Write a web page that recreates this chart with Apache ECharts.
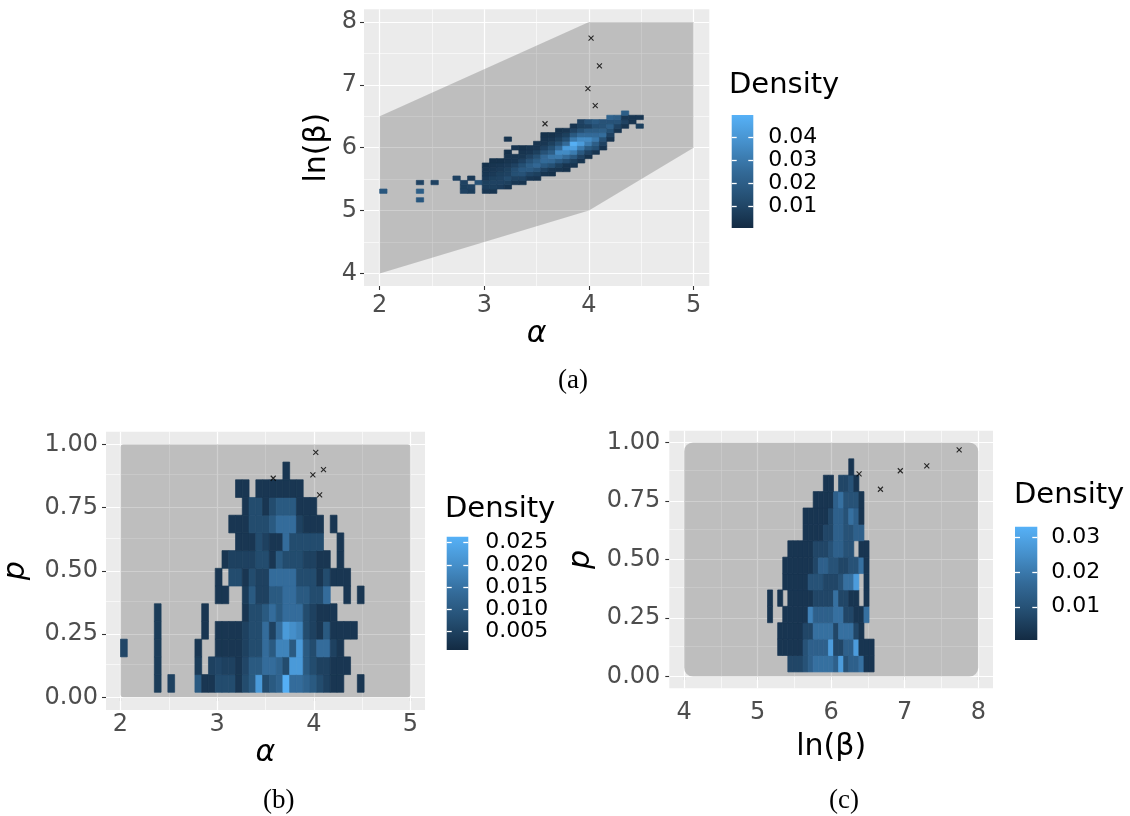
<!DOCTYPE html>
<html>
<head>
<meta charset="utf-8">
<title>Posterior density maps</title>
<script src="https://cdn.jsdelivr.net/npm/echarts@6/dist/echarts.min.js"></script>
<style>
  html, body { margin: 0; padding: 0; background: #fff; }
  #chart { width: 1130px; height: 816px; }
</style>
</head>
<body>
<div id="chart"></div>
<script>
// ---- values ----
// the five crosses (same points in every panel)
const crossAlpha = [4.02, 4.10, 3.99, 3.58, 4.06];
const crossLnBeta = [7.74, 7.30, 6.94, 6.38, 6.67];
const crossP = [0.968, 0.900, 0.879, 0.866, 0.800];

// grey prior region of (a), and prior box of (b) / (c)
const regionAlpha = [2, 2, 4, 5, 5, 4];
const regionLnBeta = [4, 6.5, 8, 8, 6, 5];
const boxAlpha = [2, 5];
const boxLnBeta = [4, 8];
const boxP = [0, 1];

// bins: [lower edge of first bin, bin width]
const alphaBin = [2.0, 0.07];
const lnBetaBin = [5.135, 0.069];
const pBin = [0.02, 0.07];

// densities in units of 0.001
// (a) and (b): [x bin, first y bin, values going up]
const densA = [
  [0, 2, [17]],
  [5, 0, [17, null, 20, null, 9]],
  [7, 4, [9]],
  [10, 5, [9]],
  [11, 2, [9, 8, 9]],
  [12, 2, [7, 9, null, 6]],
  [13, 4, [15]],
  [14, 2, [5, 7, 8, 6, 5, 4, 3]],
  [15, 2, [4, 8, 9, 8, 6, 5, 4, 3]],
  [16, 3, [7, 9, 9, 8, 6, 5, 3]],
  [17, 3, [4, 8, 12, 9, 8, 6, 4, 4, 3, null, null, 4]],
  [18, 4, [5, 9, 14, 13, 9, 5, 4, null, 4]],
  [19, 4, [4, 9, 15, 18, 14, 9, 5, 4, 3]],
  [20, 5, [5, 10, 18, 20, 15, 9, 5, 4]],
  [21, 5, [4, 8, 15, 24, 20, 14, 8, 5, 4]],
  [22, 6, [4, 9, 18, 25, 24, 15, 9, 5, 4, 3]],
  [23, 6, [3, 5, 14, 24, 29, 20, 14, 8, 5, 3]],
  [24, 7, [4, 8, 18, 30, 36, 25, 14, 8, 5, 3]],
  [25, 7, [3, 4, 13, 25, 36, 42, 25, 14, 8, 4]],
  [26, 8, [4, 8, 18, 31, 43, 49, 30, 18, 9, 4]],
  [27, 9, [4, 9, 18, 30, 42, 36, 25, 14, 8, 9]],
  [28, 10, [3, 9, 19, 31, 36, 25, 19, 9, 15]],
  [29, 11, [4, 14, 20, 30, 25, 19, 14, 18]],
  [30, 12, [4, 9, 15, 26, 20, 15, 15]],
  [31, 14, [4, 9, 14, 20, 15, 22]],
  [32, 16, [4, 9, 15, 20]],
  [33, 17, [4, 9, 5, 20]],
  [34, 18, [4, 5]],
  [35, 17, [8, null, 5]]
];
const densB = [
  [0, 2, [6]],
  [5, 0, [4, 4, 4, 4, 4]],
  [7, 0, [5]],
  [11, 0, [10, 4, 3]],
  [12, 0, [3, null, null, 3, 3]],
  [13, 0, [3, 5]],
  [14, 0, [7, 6, 3, 3, null, 3, 3]],
  [15, 0, [7, 5, 3, 3, null, 3, null, 3]],
  [16, 0, [7, 5, 3, 3, null, null, 7, 5, null, 3]],
  [17, 0, [3, 3, 3, 3, null, null, 7, 5, 3, 3, null, 3]],
  [18, 0, [7, 6, 5, 5, 3, 4, 3, 5, 3, 3, 3, 3]],
  [19, 0, [10, 10, 7, 7, 7, 10, 7, 5, 3, 7, 7]],
  [20, 0, [22, 10, 7, 7, 7, 5, 5, 7, 7, 7, 7, 3]],
  [21, 0, [7, 14, 14, 14, 10, 5, 5, 7, 5, 7, 3, 3]],
  [22, 0, [10, 14, 10, 5, 14, 10, 14, 3, 3, 10, 7, 3]],
  [23, 0, [12, 12, 18, 14, 10, 10, 14, 10, 3, 14, 10, 3]],
  [24, 0, [26, 7, 18, 22, 14, 14, 14, 7, 14, 14, 10, 3, 3]],
  [25, 0, [14, 22, 10, 20, 14, 14, 14, 7, 7, 14, 10, 3]],
  [26, 0, [14, 22, 22, 18, 14, 10, 7, 7, 7, 5, 3, 3]],
  [27, 0, [12, 10, 10, 7, 7, 10, 7, 5, 7, 3, 3]],
  [28, 0, [10, 7, 7, 5, 5, 7, 7, 5, 7, 3, 3]],
  [29, 0, [7, 5, 14, 3, 3, 7, 3, 3, 7, 3]],
  [30, 0, [5, 5, 14, 10, 3, 14, 7, 3]],
  [31, 0, [3, 3, 5, 3, 3, null, 3, null, null, 3]],
  [32, 0, [3, 3, 3, 3, null, null, 3, 3, 3]],
  [33, 1, [3, null, 3, null, 3, 3]],
  [34, 3, [3]],
  [35, 0, [3, null, null, null, null, 3]]
];
// (c): [p bin, first ln(beta) bin, values going right]
const densC = [
  [0, 4, [7, 7, 7, 10, 14, 18, 18, 18, 18, 14, 28, 10, 14, 14, 18, 3, 3]],
  [1, 2, [3, 3, 3, 3, 3, 10, 14, 14, 14, 14, 28, 7, 7, 14, 14, 28, 3, 3, 3]],
  [2, 2, [3, 3, 3, 3, 3, 7, 7, 18, 18, 18, 18, 7, 18, 18, 18, 7, 3]],
  [3, 0, [3, null, null, 3, 3, 3, 3, 3, 22, 14, 14, 14, 14, 18, 18, 7, 7, 3, 3, 18]],
  [4, 0, [3, null, 3, null, 3, 3, 3, 3, 3, 7, 7, 7, 7, 18, 7, 7, 3, 3, null, 3]],
  [5, 3, [3, 3, 3, 3, 3, 10, 10, 10, 7, 7, 7, 10, 18, 18, 28, null, 3]],
  [6, 3, [3, 3, 3, 3, 3, 3, 7, 14, 14, 10, 10, 7, 7, 10, 10, 18, 3]],
  [7, 4, [3, 3, 3, 3, 3, 7, 7, 7, 10, 14, 14, 10, 10, null, 3, 3]],
  [8, 7, [3, 3, 3, 3, 7, 7, 14, 14, 10, 10, 14, 14]],
  [9, 7, [3, 3, 3, 3, 3, 7, 14, 14, 10, 18, 14, 3]],
  [10, 9, [3, 3, 3, 3, 14, 18, 10, 10, 10, 3]],
  [11, 11, [3, 3, null, 7, 7, 10, 3]],
  [12, 16, [3]]
];

// colour bar limits and ticks
const limitsA = [0.0005, 0.0497];
const limitsB = [0.0009, 0.0263];
const limitsC = [0.0005, 0.0329];
const legendTicksA = [0.01, 0.02, 0.03, 0.04];
const legendTicksB = [0.005, 0.010, 0.015, 0.020, 0.025];
const legendTicksC = [0.01, 0.02, 0.03];

// axis ticks
const alphaTicks = [2, 3, 4, 5];
const alphaMinor = [2.5, 3.5, 4.5];
const lnBetaTicks = [4, 5, 6, 7, 8];
const lnBetaMinor = [4.5, 5.5, 6.5, 7.5];
const pTicks = [0, 0.25, 0.5, 0.75, 1];
const pMinor = [0.125, 0.375, 0.625, 0.875];
const alphaRange = [1.85, 5.15];
const lnBetaRange = [3.8, 8.2];
const pRange = [-0.05, 1.05];

// ---- chart ----
const ramp = ['#132B43', '#244D70', '#336A98', '#458FCA', '#56B1F7'];
const FONT = 'DejaVu Sans';
const chart = echarts.init(document.getElementById('chart'));

function expand(runs, xb, yb, alongX) {
  const cells = [];
  runs.forEach(function (run) {
    run[2].forEach(function (v, n) {
      if (v == null) return;
      const xi = alongX ? run[1] + n : run[0];
      const yi = alongX ? run[0] : run[1] + n;
      cells.push([xb[0] + xi * xb[1], yb[0] + yi * yb[1], v / 1000]);
    });
  });
  return cells;
}

function tileSeries(gi, cells, w, h) {
  return {
    type: 'custom', xAxisIndex: gi, yAxisIndex: gi, z: 3, silent: true,
    data: cells,
    renderItem: function (params, api) {
      const a = api.coord([api.value(0), api.value(1) + h]);
      const b = api.coord([api.value(0) + w, api.value(1)]);
      const c = api.visual('color');
      return {
        type: 'rect',
        shape: { x: a[0], y: a[1], width: b[0] - a[0], height: b[1] - a[1] },
        style: { fill: c, stroke: c, lineWidth: 0.7 }
      };
    }
  };
}

function gridLineSeries(gi, xMajor, xMinor, yMajor, yMinor) {
  const items = [];
  xMajor.forEach(v => items.push({ xAxis: v, lineStyle: { width: 1.2 } }));
  xMinor.forEach(v => items.push({ xAxis: v, lineStyle: { width: 0.6 } }));
  yMajor.forEach(v => items.push({ yAxis: v, lineStyle: { width: 1.2 } }));
  yMinor.forEach(v => items.push({ yAxis: v, lineStyle: { width: 0.6 } }));
  return {
    type: 'line', xAxisIndex: gi, yAxisIndex: gi, data: [], z: 1, silent: true,
    markLine: {
      z: 1, silent: true, symbol: ['none', 'none'], animation: false,
      label: { show: false },
      lineStyle: { color: '#ffffff', type: 'solid' },
      emphasis: { disabled: true },
      data: items
    }
  };
}

function crossSeries(gi, xs, ys) {
  return {
    type: 'scatter', xAxisIndex: gi, yAxisIndex: gi, z: 4, silent: true,
    symbol: 'path://M0,0L10,10M10,0L0,10', symbolSize: 5,
    itemStyle: { color: 'transparent', borderColor: '#000', borderWidth: 1.1 },
    data: xs.map((x, i) => [x, ys[i]])
  };
}

function boxSeries(gi, xs, ys, radius) {
  return {
    type: 'custom', xAxisIndex: gi, yAxisIndex: gi, z: 2, silent: true,
    data: [[xs[0], ys[0]]],
    renderItem: function (params, api) {
      const a = api.coord([xs[0], ys[1]]);
      const b = api.coord([xs[1], ys[0]]);
      return {
        type: 'rect',
        shape: { x: a[0], y: a[1], width: b[0] - a[0], height: b[1] - a[1], r: radius },
        style: { fill: 'rgba(0,0,0,0.19)' }
      };
    }
  };
}

function barSeries(xi, yi, lim) {
  return {
    type: 'custom', xAxisIndex: xi, yAxisIndex: yi, z: 2, silent: true,
    data: [[0, lim[0]]],
    renderItem: function (params, api) {
      const a = api.coord([0, lim[1]]);
      const b = api.coord([1, lim[0]]);
      return {
        type: 'rect',
        shape: { x: a[0], y: a[1], width: b[0] - a[0], height: b[1] - a[1] },
        style: {
          fill: new echarts.graphic.LinearGradient(0, 1, 0, 0,
            ramp.map((c, i) => ({ offset: i / (ramp.length - 1), color: c })))
        }
      };
    }
  };
}

const nameStyle = { color: '#000', fontSize: 30, fontFamily: FONT };
const italicName = Object.assign({}, nameStyle, { fontStyle: 'italic' });

function mainAxis(gi, range, ticks, fmt, margin, name, gap, style) {
  return {
    type: 'value', gridIndex: gi, min: range[0], max: range[1],
    axisLine: { show: false },
    axisTick: { show: true, length: 4, customValues: ticks, lineStyle: { color: '#333333', width: 1.1 } },
    axisLabel: { customValues: ticks, formatter: fmt, margin: margin, color: '#4D4D4D', fontSize: 24, fontFamily: FONT },
    splitLine: { show: false },
    name: name, nameLocation: 'middle', nameGap: gap, nameTextStyle: style
  };
}

function legendAxis(gi, lim, ticks, side, fmt, margin) {
  return {
    type: 'value', gridIndex: gi, min: lim[0], max: lim[1], position: side, z: 10,
    axisLine: { show: false },
    axisTick: { show: true, inside: true, length: 5, customValues: ticks, lineStyle: { color: '#ffffff', width: 1.3 } },
    axisLabel: side === 'right'
      ? { customValues: ticks, formatter: fmt, margin: margin, color: '#000', fontSize: 22, fontFamily: FONT }
      : { show: false, customValues: ticks },
    splitLine: { show: false }
  };
}

const f0 = v => String(v);
const f2 = v => v.toFixed(2);
const f3 = v => v.toFixed(3);
const hidden = gi => ({ type: 'value', gridIndex: gi, min: 0, max: 1, show: false });

const option = {
  animation: false,
  backgroundColor: '#ffffff',
  grid: [
    { left: 364, top: 9.3, width: 345.3, height: 276.7, show: true, backgroundColor: '#EBEBEB', borderWidth: 0 },
    { left: 101.7, top: 431.7, width: 323.3, height: 278.3, show: true, backgroundColor: '#EBEBEB', borderWidth: 0 },
    { left: 669.3, top: 430.7, width: 323.7, height: 257.6, show: true, backgroundColor: '#EBEBEB', borderWidth: 0 },
    { left: 731.7, top: 115, width: 21.6, height: 113 },
    { left: 446.7, top: 536.7, width: 21.6, height: 113.3 },
    { left: 1015, top: 526.7, width: 22.3, height: 113.3 }
  ],
  xAxis: [
    mainAxis(0, alphaRange, alphaTicks, f0, 8, 'α', 25, italicName),
    mainAxis(1, alphaRange, alphaTicks, f0, 3, 'α', 23, italicName),
    mainAxis(2, lnBetaRange, lnBetaTicks, f0, 12, 'ln(β)', 44, nameStyle),
    hidden(3), hidden(4), hidden(5)
  ],
  yAxis: [
    mainAxis(0, lnBetaRange, lnBetaTicks, f0, 7, 'ln(β)', 32, nameStyle),
    mainAxis(1, pRange, pTicks, f2, 8, 'p', 75, italicName),
    mainAxis(2, pRange, pTicks, f2, 9, 'p', 73, italicName),
    legendAxis(3, limitsA, legendTicksA, 'left', f2, 15),
    legendAxis(3, limitsA, legendTicksA, 'right', f2, 15),
    legendAxis(4, limitsB, legendTicksB, 'left', f3, 17),
    legendAxis(4, limitsB, legendTicksB, 'right', f3, 17),
    legendAxis(5, limitsC, legendTicksC, 'left', f2, 14),
    legendAxis(5, limitsC, legendTicksC, 'right', f2, 14)
  ],
  visualMap: [
    { type: 'continuous', show: false, seriesIndex: 2, dimension: 2, min: limitsA[0], max: limitsA[1], inRange: { color: ramp } },
    { type: 'continuous', show: false, seriesIndex: 6, dimension: 2, min: limitsB[0], max: limitsB[1], inRange: { color: ramp } },
    { type: 'continuous', show: false, seriesIndex: 10, dimension: 2, min: limitsC[0], max: limitsC[1], inRange: { color: ramp } }
  ],
  series: [
    // (a)
    gridLineSeries(0, alphaTicks, alphaMinor, lnBetaTicks, lnBetaMinor),
    {
      type: 'custom', xAxisIndex: 0, yAxisIndex: 0, z: 2, silent: true,
      data: [[regionAlpha[0], regionLnBeta[0]]],
      renderItem: function (params, api) {
        return {
          type: 'polygon',
          shape: { points: regionAlpha.map((a, i) => api.coord([a, regionLnBeta[i]])) },
          style: { fill: 'rgba(0,0,0,0.19)' }
        };
      }
    },
    tileSeries(0, expand(densA, alphaBin, lnBetaBin, false), alphaBin[1], lnBetaBin[1]),
    crossSeries(0, crossAlpha, crossLnBeta),
    // (b)
    gridLineSeries(1, alphaTicks, alphaMinor, pTicks, pMinor),
    boxSeries(1, boxAlpha, boxP, 3),
    tileSeries(1, expand(densB, alphaBin, pBin, false), alphaBin[1], pBin[1]),
    crossSeries(1, crossAlpha, crossP),
    // (c)
    gridLineSeries(2, lnBetaTicks, lnBetaMinor, pTicks, pMinor),
    boxSeries(2, boxLnBeta, boxP, 9),
    tileSeries(2, expand(densC, lnBetaBin, pBin, true), lnBetaBin[1], pBin[1]),
    crossSeries(2, crossLnBeta, crossP),
    // colour bars
    barSeries(3, 3, limitsA),
    barSeries(4, 5, limitsB),
    barSeries(5, 7, limitsC)
  ],
  graphic: [
    { type: 'text', left: 729, top: 71, style: { text: 'Density', fontSize: 29, fontFamily: FONT, fill: '#000' } },
    { type: 'text', left: 445, top: 495, style: { text: 'Density', fontSize: 29, fontFamily: FONT, fill: '#000' } },
    { type: 'text', left: 1014, top: 481, style: { text: 'Density', fontSize: 29, fontFamily: FONT, fill: '#000' } },
    { type: 'text', left: 558, top: 367, style: { text: '(a)', fontSize: 27, fontFamily: 'Liberation Serif', fill: '#000' } },
    { type: 'text', left: 263, top: 787, style: { text: '(b)', fontSize: 27, fontFamily: 'Liberation Serif', fill: '#000' } },
    { type: 'text', left: 829, top: 787, style: { text: '(c)', fontSize: 27, fontFamily: 'Liberation Serif', fill: '#000' } }
  ]
};

chart.setOption(option);
</script>
</body>
</html>
